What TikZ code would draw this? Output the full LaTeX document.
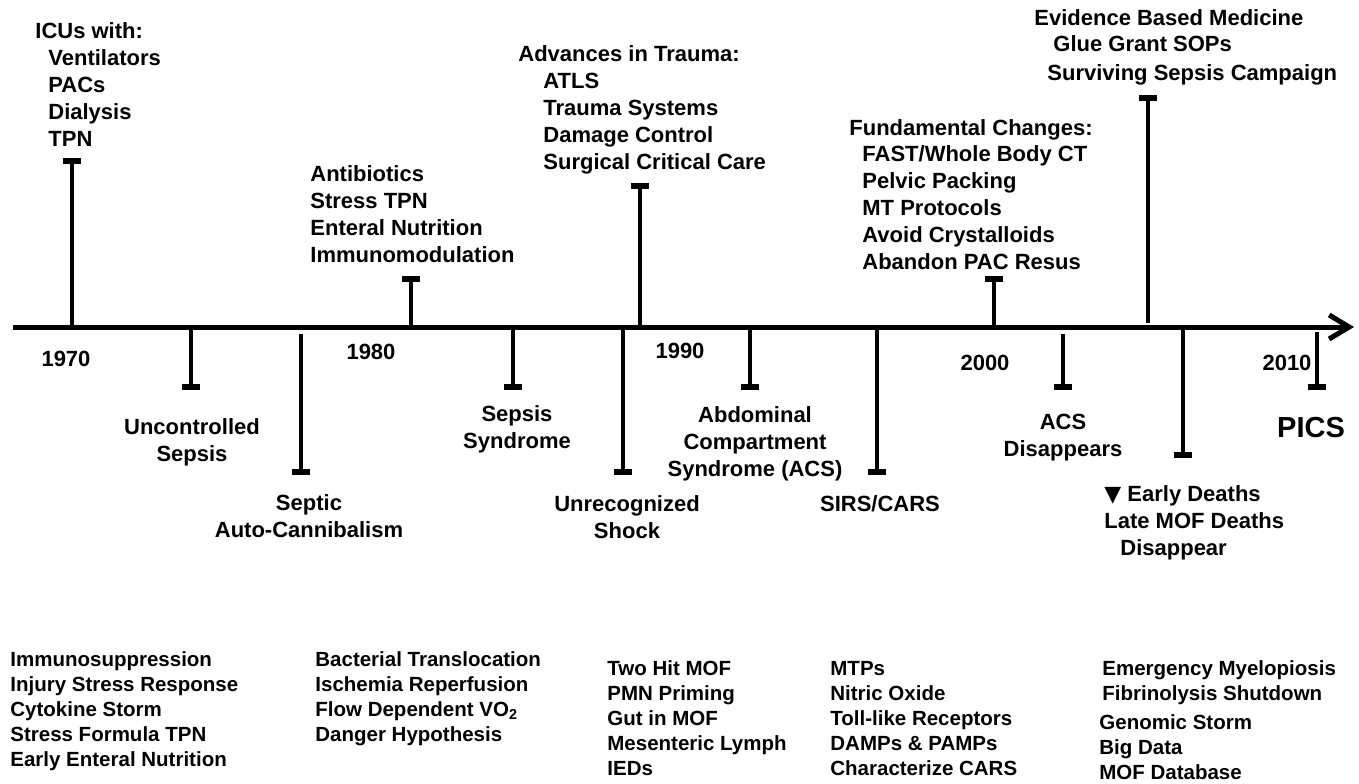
\documentclass[tikz,border=0pt]{standalone}
\usepackage{fontspec}
\setmainfont{Liberation Sans}
\newfontfamily\symfont{DejaVu Sans}
\usetikzlibrary{arrows.meta}
\newcommand{\tmark}[3]{
\coordinate (s#1) at (#1,#2);
\coordinate (e#1) at (#1,#3);
\draw[stem] (s#1) -- (e#1);
}
\tikzset{
stem/.style={line width=2pt,-{Rectangle[length=3pt,width=9pt]}},
lab/.style={inner sep=0pt,font=\bfseries\fontsize{11}{13.5}\selectfont},
up/.style={lab,anchor=north west,align=left},
down/.style={lab,anchor=north,align=center},
lst/.style={inner sep=0pt,anchor=north west,align=left,font=\bfseries\fontsize{10.25}{12.5}\selectfont},
}
\begin{document}
\begin{tikzpicture}[x=0.5pt,y=-0.5pt]
\useasboundingbox (0,0) rectangle (1359,783);

% time axis
\coordinate (t0) at (13,327);
\coordinate (t1) at (1354,327);
\draw[line width=2.5pt,-{Straight Barb[length=10pt,width=12pt]}] (t0) -- (t1);

\tmark{72}{327}{158}
\tmark{411}{327}{276}
\tmark{640}{327}{183}
\tmark{994}{327}{276}
\tmark{1148}{323}{95}

\tmark{191}{327}{390}
\tmark{301}{334}{475}
\tmark{513}{327}{390}
\tmark{623}{327}{475}
\tmark{750}{327}{390}
\tmark{877}{327}{475}
\tmark{1063}{334}{390}
\tmark{1183}{327}{458}
\tmark{1317}{332}{390}

\node[lab] (y1970) at (66,359) {1970};
\node[lab] (y1980) at (371,352) {1980};
\node[lab] (y1990) at (680,351) {1990};
\node[lab] (y2000) at (985,363) {2000};
\node[lab] (y2010) at (1287,363) {2010};

% above the axis
\node[up] (icuhead) at (35,22) {ICUs with:};
\node[up] (icus) at (48,49) {Ventilators\\PACs\\Dialysis\\TPN};
\node[up] (abx) at (310,165) {Antibiotics\\Stress TPN\\Enteral Nutrition\\Immunomodulation};
\node[up] (traumahead) at (518,45) {Advances in Trauma:};
\node[up] (trauma) at (543,73) {ATLS\\Trauma Systems\\Damage Control\\Surgical Critical Care};
\node[up] (fundhead) at (849,119) {Fundamental Changes:};
\node[up] (fund) at (862,145) {FAST/Whole Body CT\\Pelvic Packing\\MT Protocols\\Avoid Crystalloids\\Abandon PAC Resus};
\node[up] (ebm) at (1034,9) {Evidence Based Medicine};
\node[up] (glue) at (1053,35) {Glue Grant SOPs};
\node[up] (ssc) at (1047,64) {Surviving Sepsis Campaign};

% below the axis
\node[down] (unc) at (192,418) {Uncontrolled\\Sepsis};
\node[down] (septic) at (309,494) {Septic\\Auto-Cannibalism};
\node[down] (sepsyn) at (517,405) {Sepsis\\Syndrome};
\node[down] (unrec) at (627,495) {Unrecognized\\Shock};
\node[down] (acs) at (755,406) {Abdominal\\Compartment\\Syndrome (ACS)};
\node[down] (sirs) at (880,495) {SIRS/CARS};
\node[down] (acsgone) at (1063,414) {ACS\\Disappears};
\node[up] (deaths) at (1104,485) {{\symfont ▼} Early Deaths\\Late MOF Deaths\\\hspace*{8pt}Disappear};
\node[lab,anchor=north,font=\bfseries\fontsize{14.5}{17}\selectfont] (pics) at (1311,417) {PICS};

% bottom lists
\node[lst] (c1) at (10,651.5) {Immunosuppression\\Injury Stress Response\\Cytokine Storm\\Stress Formula TPN\\Early Enteral Nutrition};
\node[lst] (c2) at (315,651.5) {Bacterial Translocation\\Ischemia Reperfusion\\Flow Dependent VO\textsubscript{2}\\Danger Hypothesis};
\node[lst] (c3) at (607,660.5) {Two Hit MOF\\PMN Priming\\Gut in MOF\\Mesenteric Lymph\\IEDs};
\node[lst] (c4) at (830,660.5) {MTPs\\Nitric Oxide\\Toll-like Receptors\\DAMPs \& PAMPs\\Characterize CARS};
\node[lst] (c5) at (1102,660.5) {Emergency Myelopiosis\\Fibrinolysis Shutdown};
\node[lst] (c6) at (1099,714.5) {Genomic Storm\\Big Data\\MOF Database};

\end{tikzpicture}
\end{document}
